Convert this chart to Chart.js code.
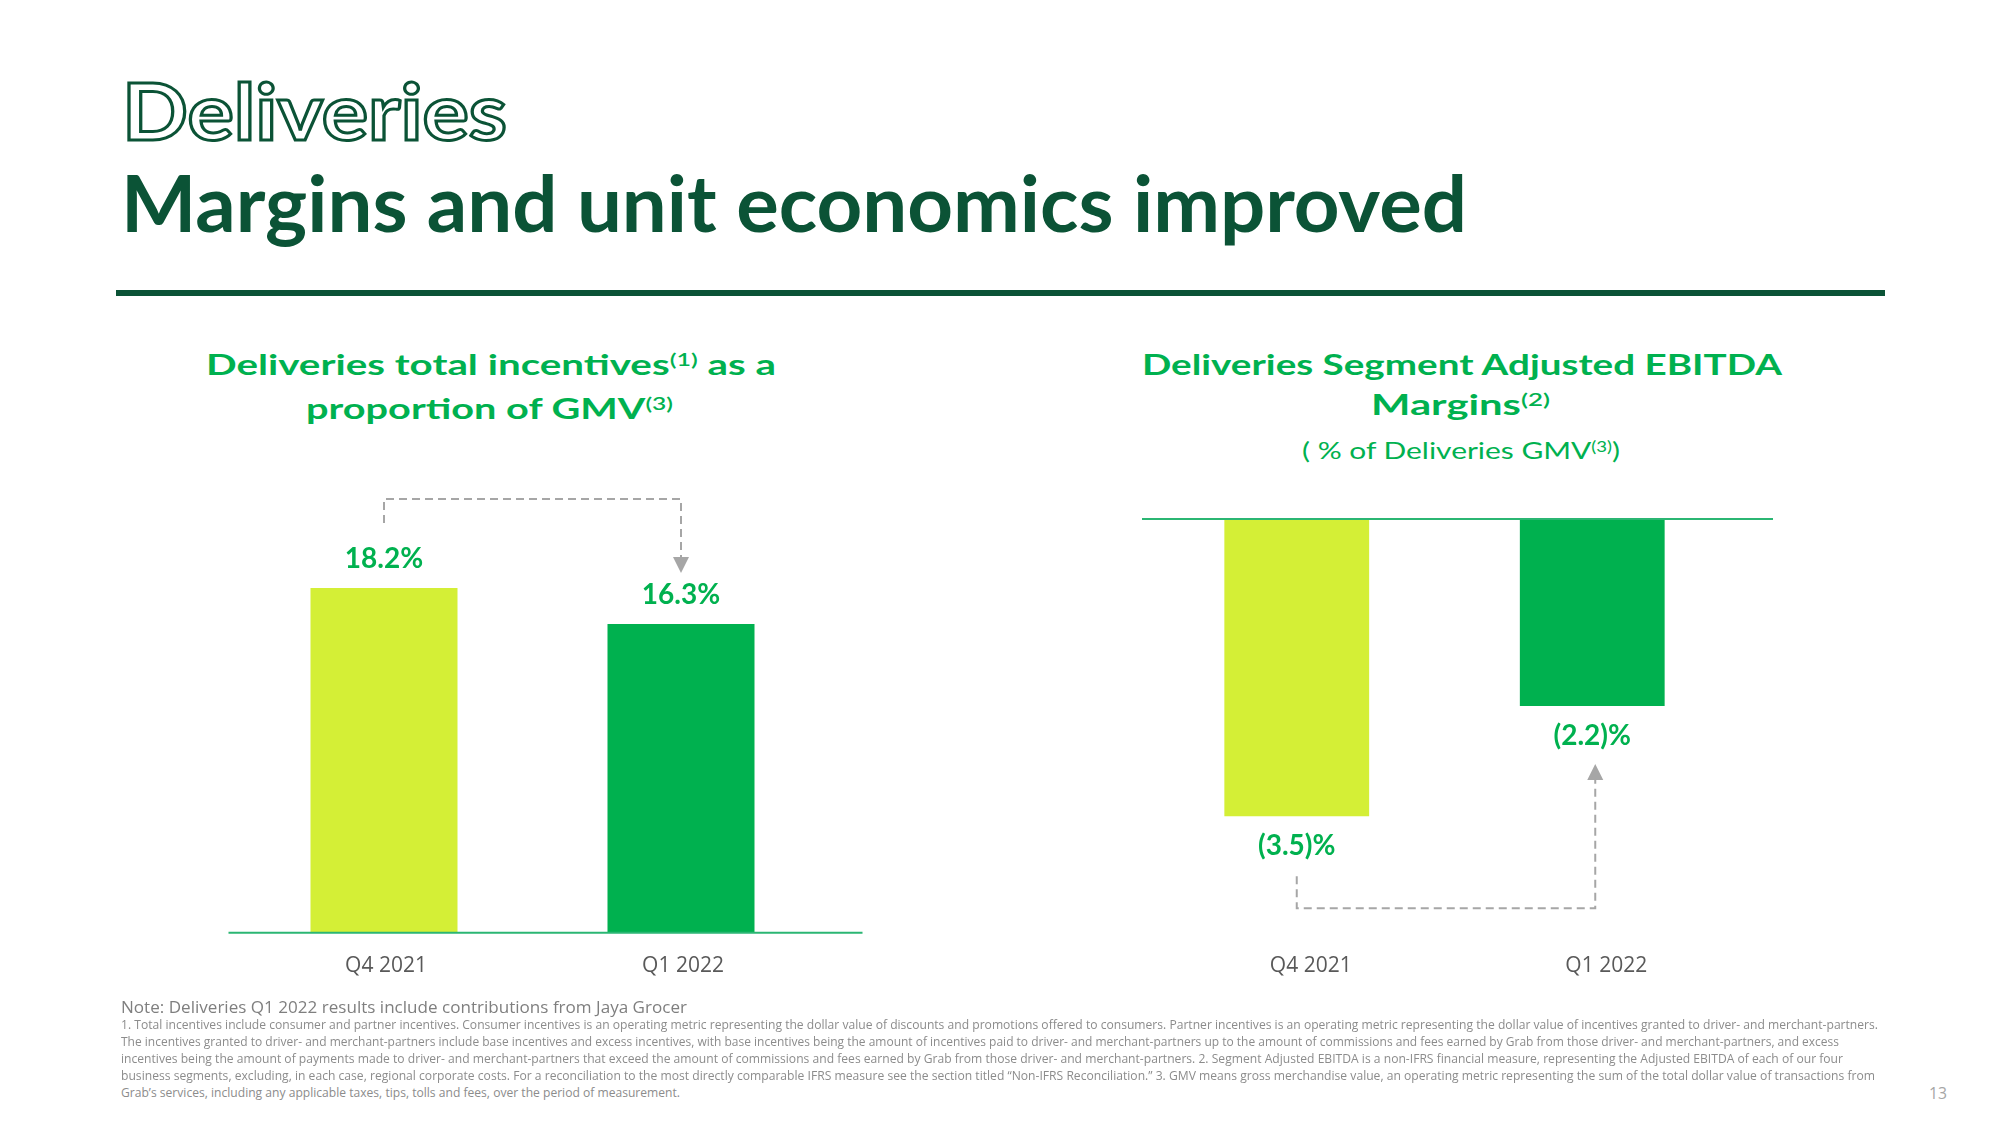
<!DOCTYPE html>
<html>
<head>
<meta charset="utf-8">
<title>Deliveries - Margins and unit economics improved</title>
<script src="https://cdn.jsdelivr.net/npm/chart.js@4.4.0/dist/chart.umd.min.js"></script>
<style>
  body { margin: 0; width: 2000px; height: 1125px; background: #fff; position: relative; overflow: hidden; font-family: Lato, "Open Sans", sans-serif; }
  .txt { position: absolute; white-space: nowrap; line-height: 1; transform-origin: left top; }
  sup { font-size: 0.62em; line-height: 0; vertical-align: 0.5em; font-weight: 600; }
  .chart-box { position: absolute; }
  #rule { position: absolute; left: 116px; top: 290px; width: 1769px; height: 6px; background: #0b5336; }
</style>
</head>
<body>

<div id="hDeliveries" class="txt" style="font-size:79px;font-weight:700;color:#fff;-webkit-text-stroke:3px #0b5336;">Deliveries</div>
<div id="hMain" class="txt" style="font-size:78px;font-weight:700;color:#0b5336;">Margins and unit economics improved</div>
<div id="rule"></div>

<div id="lt1" class="txt" style="font-size:28px;font-weight:700;color:#00b14f;">Deliveries total incentives<sup>(1)</sup> as a</div>
<div id="lt2" class="txt" style="font-size:28px;font-weight:700;color:#00b14f;">proportion of GMV<sup>(3)</sup></div>
<div id="rt1" class="txt" style="font-size:28px;font-weight:700;color:#00b14f;">Deliveries Segment Adjusted EBITDA</div>
<div id="rt2" class="txt" style="font-size:28px;font-weight:700;color:#00b14f;">Margins<sup>(2)</sup></div>
<div id="rt3" class="txt" style="font-size:24px;font-weight:400;color:#00b14f;">( % of Deliveries GMV<sup style="font-weight:400">(3)</sup>)</div>

<div class="chart-box" style="left:200px;top:440px;width:700px;height:570px;"><canvas id="incentivesChart"></canvas></div>
<div class="chart-box" style="left:1100px;top:480px;width:700px;height:519px;"><canvas id="ebitdaChart"></canvas></div>

<div id="note" class="txt" style="font-family:'Open Sans',sans-serif;font-size:17px;color:#7f7f7f;">Note: Deliveries Q1 2022 results include contributions from Jaya Grocer</div>
<div id="fn1" class="txt fn" style="font-family:'Open Sans',sans-serif;font-size:12.5px;color:#8c8c8c;">1. Total incentives include consumer and partner incentives. Consumer incentives is an operating metric representing the dollar value of discounts and promotions offered to consumers. Partner incentives is an operating metric representing the dollar value of incentives granted to driver- and merchant-partners.</div>
<div id="fn2" class="txt fn" style="font-family:'Open Sans',sans-serif;font-size:12.5px;color:#8c8c8c;">The incentives granted to driver- and merchant-partners include base incentives and excess incentives, with base incentives being the amount of incentives paid to driver- and merchant-partners up to the amount of commissions and fees earned by Grab from those driver- and merchant-partners, and excess</div>
<div id="fn3" class="txt fn" style="font-family:'Open Sans',sans-serif;font-size:12.5px;color:#8c8c8c;">incentives being the amount of payments made to driver- and merchant-partners that exceed the amount of commissions and fees earned by Grab from those driver- and merchant-partners. 2. Segment Adjusted EBITDA is a non-IFRS financial measure, representing the Adjusted EBITDA of each of our four</div>
<div id="fn4" class="txt fn" style="font-family:'Open Sans',sans-serif;font-size:12.5px;color:#8c8c8c;">business segments, excluding, in each case, regional corporate costs. For a reconciliation to the most directly comparable IFRS measure see the section titled “Non-IFRS Reconciliation.” 3. GMV means gross merchandise value, an operating metric representing the sum of the total dollar value of transactions from</div>
<div id="fn5" class="txt fn" style="font-family:'Open Sans',sans-serif;font-size:12.5px;color:#8c8c8c;">Grab’s services, including any applicable taxes, tips, tolls and fees, over the period of measurement.</div>
<div id="pageNum" class="txt" style="font-family:'Open Sans',sans-serif;font-size:17px;color:#a6a6a6;">13</div>

<script>
// chart values
const quarters = ['Q4 2021', 'Q1 2022'];
const incentiveShare = [18.2, 16.3];
const incentiveLabels = ['18.2%', '16.3%'];
const ebitdaMargin = [-3.5, -2.2];
const ebitdaLabels = ['(3.5)%', '(2.2)%'];

const barColors = ['#d4ef36', '#00b14f'];
const labelGreen = '#00b14f';
const axisGreen = '#2bb673';
const arrowGrey = '#a6a6a6';

// place a text line by its baseline and stretch it to the measured width
function placeText(id, left, baseline, width) {
    const el = document.getElementById(id);
    const size = parseFloat(el.style.fontSize);
    el.style.left = left + 'px';
    el.style.top = (baseline - 0.888 * size) + 'px';
    const w = el.getBoundingClientRect().width;
    el.style.transform = 'scaleX(' + (width / w) + ')';
}

function layoutText() {
    placeText('hDeliveries', 122, 140, 385);
    placeText('hMain', 121, 232, 1346);
    placeText('lt1', 206, 375, 570);
    placeText('lt2', 306, 419, 367);
    placeText('rt1', 1142, 375, 640);
    placeText('rt2', 1371, 415, 179);
    placeText('rt3', 1302, 459, 318);
    placeText('note', 121, 1013, 566);
    placeText('fn1', 121, 1030, 1757);
    placeText('fn2', 121, 1047, 1718);
    placeText('fn3', 121, 1064, 1722);
    placeText('fn4', 121, 1081, 1754);
    placeText('fn5', 121, 1098, 559);
    placeText('pageNum', 1929, 1099, 18);
}

function dashedPath(ctx, pts) {
    ctx.save();
    ctx.strokeStyle = arrowGrey;
    ctx.lineWidth = 2;
    ctx.setLineDash([8, 5]);
    ctx.beginPath();
    ctx.moveTo(pts[0][0], pts[0][1]);
    for (let i = 1; i < pts.length; i++) ctx.lineTo(pts[i][0], pts[i][1]);
    ctx.stroke();
    ctx.restore();
}

function arrowHead(ctx, x, tipY, dir) {
    // dir = 1 points down, -1 points up
    ctx.save();
    ctx.fillStyle = arrowGrey;
    ctx.beginPath();
    ctx.moveTo(x, tipY);
    ctx.lineTo(x - 8, tipY - dir * 16);
    ctx.lineTo(x + 8, tipY - dir * 16);
    ctx.closePath();
    ctx.fill();
    ctx.restore();
}

const decorations = {
    id: 'decorations',
    afterDatasetsDraw(chart, args, opts) {
        const ctx = chart.ctx;
        const area = chart.chartArea;
        const y0 = chart.scales.y.getPixelForValue(0);
        const bars = chart.getDatasetMeta(0).data;

        // zero line
        ctx.save();
        ctx.strokeStyle = axisGreen;
        ctx.lineWidth = 2;
        ctx.beginPath();
        ctx.moveTo(area.left - 7, y0);
        ctx.lineTo(area.right + 33, y0);
        ctx.stroke();
        ctx.restore();

        // value labels
        ctx.save();
        ctx.fillStyle = labelGreen;
        ctx.font = 'bold 28px Lato, sans-serif';
        ctx.textAlign = 'center';
        ctx.textBaseline = 'middle';
        bars.forEach((bar, i) => {
            const off = opts.negative ? 30 : -29;
            ctx.fillText(opts.labels[i], bar.x, bar.y + off);
        });
        ctx.restore();

        // change arrow between the two quarters
        const a = bars[0], b = bars[1];
        if (!opts.negative) {
            const tip = b.y - 51;
            dashedPath(ctx, [[a.x, a.y - 65], [a.x, a.y - 89], [b.x, a.y - 89], [b.x, tip - 16]]);
            arrowHead(ctx, b.x, tip, 1);
        } else {
            const tip = b.y + 58;
            dashedPath(ctx, [[a.x, a.y + 60], [a.x, a.y + 92], [b.x + 3, a.y + 92], [b.x + 3, tip + 16]]);
            arrowHead(ctx, b.x + 3, tip, -1);
        }
    }
};

function barChart(canvasId, values, labels, yMin, yMax, padding, tickPad, labelShift, barPct, negative) {
    const ctx = document.getElementById(canvasId).getContext('2d');
    return new Chart(ctx, {
        type: 'bar',
        data: {
            labels: quarters,
            datasets: [{
                data: values,
                backgroundColor: barColors,
                borderWidth: 0,
                categoryPercentage: 1,
                barPercentage: barPct
            }]
        },
        options: {
            responsive: true,
            maintainAspectRatio: false,
            animation: false,
            layout: { padding: padding },
            plugins: {
                legend: { display: false },
                tooltip: { enabled: false },
                decorations: { labels: labels, negative: negative }
            },
            scales: {
                x: {
                    grid: { display: false, drawTicks: false },
                    border: { display: false },
                    ticks: {
                        padding: tickPad,
                        labelOffset: labelShift,
                        color: '#595959',
                        font: { family: 'Open Sans', size: 21 }
                    }
                },
                y: {
                    display: false,
                    min: yMin,
                    max: yMax
                }
            }
        },
        plugins: [decorations]
    });
}

document.fonts.ready.then(() => {
    layoutText();
    barChart('incentivesChart', incentiveShare, incentiveLabels, 0, 24,
        { left: 35.5, right: 70.5, top: 38, bottom: 10 }, 21, 2, 0.495, false);
    barChart('ebitdaChart', ebitdaMargin, ebitdaLabels, -5, 0,
        { left: 49, right: 60, top: 39, bottom: 10 }, 10, 14, 0.49, true);
});
</script>
</body>
</html>
